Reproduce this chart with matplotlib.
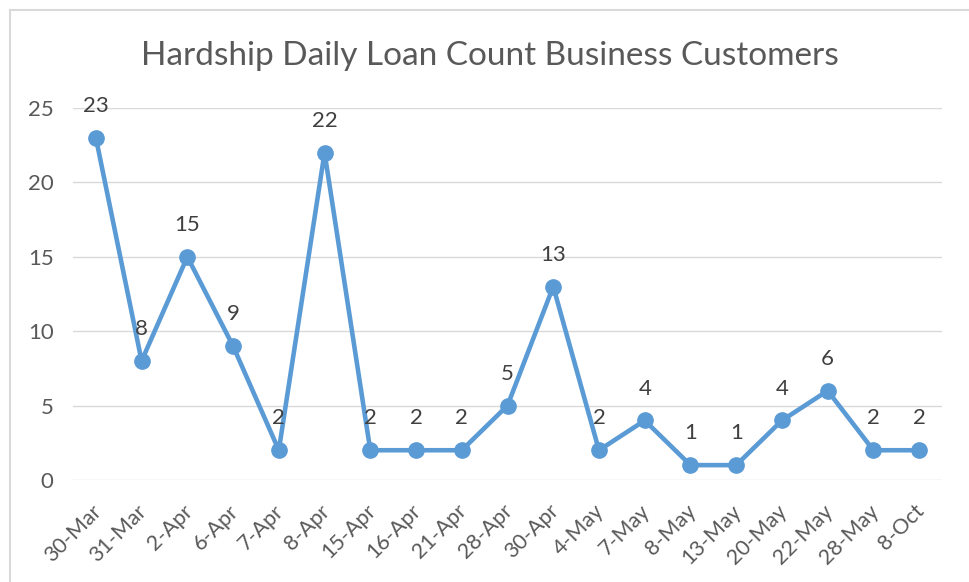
import matplotlib
matplotlib.use("Agg")
import matplotlib.pyplot as plt
from matplotlib.patches import Rectangle
from matplotlib.transforms import ScaledTranslation

dates = ["30-Mar", "31-Mar", "2-Apr", "6-Apr", "7-Apr", "8-Apr", "15-Apr", "16-Apr",
         "21-Apr", "28-Apr", "30-Apr", "4-May", "7-May", "8-May", "13-May", "20-May",
         "22-May", "28-May", "8-Oct"]
counts = [23, 8, 15, 9, 2, 22, 2, 2, 2, 5, 13, 2, 4, 1, 1, 4, 6, 2, 2]
yticks = [0, 5, 10, 15, 20, 25]
title = "Hardship Daily Loan Count Business Customers"

plt.rcParams['font.family'] = ['Lato', 'DejaVu Sans']
W, H = 969, 582
fig = plt.figure(figsize=(W / 100, H / 100), dpi=100)
ax = fig.add_axes([73 / W, (H - 480) / H, (942 - 73) / W, (480 - 108) / H])

x = list(range(len(dates)))
ax.plot(x, counts, color="#5B9BD5", linewidth=3.3, marker="o", markersize=11,
        solid_joinstyle="round", zorder=3)
for xi, v in zip(x, counts):
    ax.annotate(str(v), (xi, v), xytext=(0, 23), textcoords="offset points",
                ha="center", va="center", fontsize=16, color="#404040")

ax.set_xlim(-0.5, len(dates) - 0.5)
ax.set_ylim(0, 25)
ax.set_yticks(yticks)
ax.set_yticklabels([str(t) for t in yticks], fontsize=16, color="#595959")
ax.set_xticks(x)
ax.set_xticklabels(dates, rotation=45, ha="right", rotation_mode="anchor",
                   fontsize=15.5, color="#595959")
ax.tick_params(axis="both", length=0)
ax.tick_params(axis="y", pad=14)
ax.tick_params(axis="x", pad=7)
shift = ScaledTranslation(-5 / 100, -11 / 100, fig.dpi_scale_trans)
for lab in ax.get_xticklabels():
    lab.set_transform(lab.get_transform() + shift)
ax.grid(axis="y", color="#D9D9D9", linewidth=1.0)
ax.set_axisbelow(True)
for s in ax.spines.values():
    s.set_visible(False)

fig.text(490 / W, 1 - 56 / H, title, ha="center", va="center", fontsize=24,
         color="#595959")

fig.patches.append(Rectangle((10 / W, -0.1), 1.2, 1 - 10 / H + 0.1,
                             transform=fig.transFigure, fill=False,
                             edgecolor="#D9D9D9", linewidth=1.5))

fig.savefig("out.png", dpi=100)
